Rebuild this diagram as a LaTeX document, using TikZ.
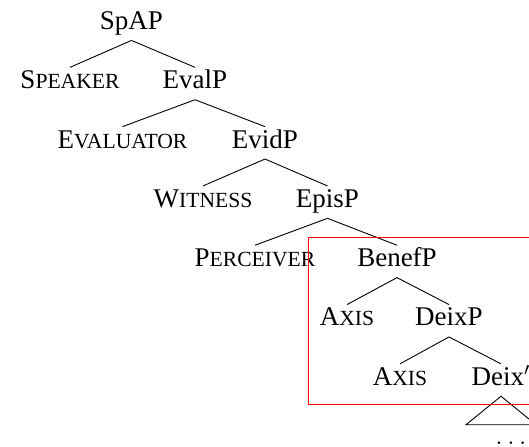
\documentclass[tikz,border=0pt]{standalone}
\usepackage{fontspec}
\setmainfont{Liberation Serif}
\newcommand{\fsc}[1]{{\fontsize{9.6}{11}\selectfont #1}}

\begin{document}
\begin{tikzpicture}[x=0.4444pt, y=-0.4444pt, every node/.style={font=\fontsize{12}{14}\selectfont, anchor=base, text height=8pt, text depth=3.33pt, inner xsep=0pt, inner ysep=1.33pt}]
    \useasboundingbox (0,0) rectangle (529,447);
    \clip (0,0) rectangle (529,447);

    \node (sp) at (131.5,29.5) {SpAP};
    \node (speaker) at (70,88.8) {S\fsc{PEAKER}};
    \node (evalp) at (195,88.8) {EvalP};
    \node (evaluator) at (122.5,148.1) {E\fsc{VALUATOR}};
    \node (evidp) at (265,148.1) {EvidP};
    \node (witness) at (203,207.4) {W\fsc{ITNESS}};
    \node (episp) at (327.5,207.4) {EpisP};
    \node (perceiver) at (255,266.7) {P\fsc{ERCEIVER}};
    \node (benefp) at (397,266.7) {BenefP};
    \node (axisa) at (347,326) {A\fsc{XIS}};
    \node (deixp) at (449,326) {DeixP};
    \node (axisb) at (400,385.3) {A\fsc{XIS}};
    \node (deixbar) at (501,385.3) {Deix$'$};
    \node (dots) at (511,444.5) {$\ldots$};

    \draw (sp.south) -- (speaker.north);
    \draw (sp.south) -- (evalp.north);
    \draw (evalp.south) -- (evaluator.north);
    \draw (evalp.south) -- (evidp.north);
    \draw (evidp.south) -- (witness.north);
    \draw (evidp.south) -- (episp.north);
    \draw (episp.south) -- (perceiver.north);
    \draw (episp.south) -- (benefp.north);
    \draw (benefp.south) -- (axisa.north);
    \draw (benefp.south) -- (deixp.north);
    \draw (deixp.south) -- (axisb.north);
    \draw (deixp.south) -- (deixbar.north);

    \draw (deixbar.south) -- ++(-35,28.5) -- ++(70,0) -- cycle;

    \draw[red] (308.5,237.5) rectangle (570,404.5);
    % \draw[red, dashed] (308,237) rectangle (570,404);
  \end{tikzpicture}
\end{document}
